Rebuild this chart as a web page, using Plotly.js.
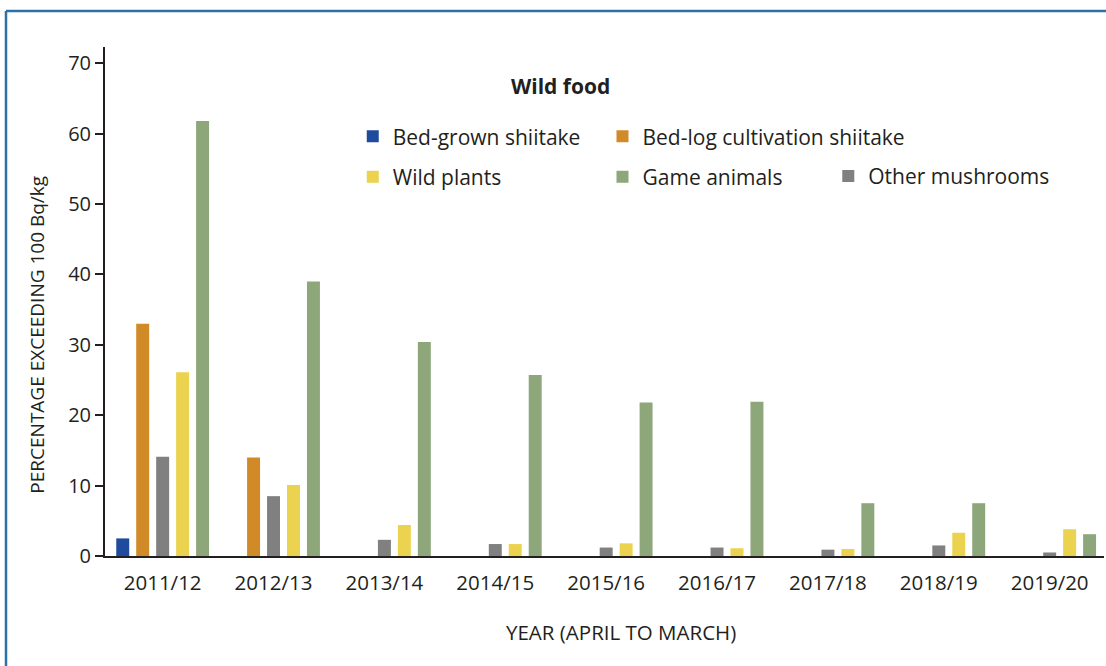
<!DOCTYPE html>
<html>
<head>
<meta charset="utf-8">
<script src="https://cdn.plot.ly/plotly-3.0.1.min.js"></script>
<style>
  html, body { margin: 0; padding: 0; background: #ffffff; }
  #chart { width: 1106px; height: 666px; }
</style>
</head>
<body>
<div id="chart"></div>
<script>
const years = ["2011/12", "2012/13", "2013/14", "2014/15", "2015/16", "2016/17", "2017/18", "2018/19", "2019/20"];
const bedGrownShiitake = [2.5, null, null, null, null, null, null, null, null];
const bedLogShiitake = [33, 14, null, null, null, null, null, null, null];
const otherMushrooms = [14.1, 8.5, 2.3, 1.7, 1.2, 1.2, 0.9, 1.5, 0.5];
const wildPlants = [26.1, 10.1, 4.4, 1.7, 1.8, 1.1, 1.0, 3.3, 3.8];
const gameAnimals = [61.8, 39.0, 30.4, 25.7, 21.8, 21.9, 7.5, 7.5, 3.1];
const yTicks = [0, 10, 20, 30, 40, 50, 60, 70];

const FONT = "Open Sans, Lato, sans-serif";
const TXT = "#231f20";

function bar(name, y, color, rank, legend) {
  return {
    type: "bar", name: name, x: years, y: y,
    marker: { color: color, line: { width: 0 } },
    legendrank: rank, legend: legend, legendgroup: name,
    hoverinfo: "x+y+name"
  };
}

const data = [
  bar("Bed-grown shiitake", bedGrownShiitake, "#1f4b9d", 1, "legend"),
  bar("Bed-log cultivation shiitake", bedLogShiitake, "#d08a28", 1, "legend2"),
  bar("Other mushrooms", otherMushrooms, "#808080", 1, "legend3"),
  bar("Wild plants", wildPlants, "#ecd34f", 2, "legend"),
  bar("Game animals", gameAnimals, "#8da77b", 2, "legend2")
];

const legendBase = {
  orientation: "v", xanchor: "left", yanchor: "top",
  font: { family: FONT, size: 21, color: TXT },
  bgcolor: "rgba(0,0,0,0)", borderwidth: 0,
  tracegroupgap: 10, itemclick: false, itemdoubleclick: false
};

const layout = {
  width: 1106, height: 666,
  margin: { l: 105, r: 2, t: 47, b: 110, pad: 0 },
  paper_bgcolor: "#ffffff", plot_bgcolor: "#ffffff",
  font: { family: FONT, size: 18, color: TXT },
  barmode: "group", bargap: 0.1, bargroupgap: 0.35,
  showlegend: true,
  legend: Object.assign({}, legendBase, { x: 0.248, y: 0.864 }),
  legend2: Object.assign({}, legendBase, { x: 0.498, y: 0.864 }),
  legend3: Object.assign({}, legendBase, { x: 0.724, y: 0.786, tracegroupgap: 0 }),
  xaxis: {
    type: "category", range: [-0.52, 8.49],
    showline: true, linecolor: TXT, linewidth: 2,
    ticks: "", showgrid: false, zeroline: false,
    ticklabelstandoff: 7,
    tickfont: { family: FONT, size: 20.5, color: TXT },
    fixedrange: true
  },
  yaxis: {
    range: [0, 72.3], tickvals: yTicks,
    showline: true, linecolor: TXT, linewidth: 2,
    ticks: "outside", ticklen: 8, tickwidth: 2, tickcolor: TXT,
    showgrid: false, zeroline: false,
    tickfont: { family: FONT, size: 20, color: TXT },
    fixedrange: true
  },
  annotations: [
    { text: "<b>Wild food</b>", xref: "paper", yref: "paper", x: 0.4555, y: 0.9235,
      xanchor: "center", yanchor: "middle", showarrow: false,
      font: { family: FONT, size: 21, color: TXT } },
    { text: "YEAR (APRIL TO MARCH)", xref: "paper", yref: "paper", x: 0.517, y: -0.15,
      xanchor: "center", yanchor: "middle", showarrow: false,
      font: { family: FONT, size: 20.5, color: TXT } },
    { text: "PERCENTAGE EXCEEDING 100 Bq/kg", xref: "paper", yref: "paper", x: -0.068, y: 0.435,
      xanchor: "center", yanchor: "middle", textangle: -90, showarrow: false,
      font: { family: FONT, size: 19, color: TXT } }
  ],
  shapes: [
    { type: "line", xref: "paper", yref: "paper", x0: -0.0991, x1: 1.01, y0: 1.0707, y1: 1.0707,
      line: { color: "#2a72a8", width: 2.5 } },
    { type: "line", xref: "paper", yref: "paper", x0: -0.0991, x1: -0.0991, y0: 1.0707, y1: -0.25,
      line: { color: "#2a72a8", width: 2.5 } },
    { type: "line", xref: "paper", yref: "paper", x0: -0.009, x1: 0, y0: 0, y1: 0,
      line: { color: TXT, width: 2 } }
  ]
};

Plotly.newPlot("chart", data, layout, { displayModeBar: false, staticPlot: true });
</script>
</body>
</html>
